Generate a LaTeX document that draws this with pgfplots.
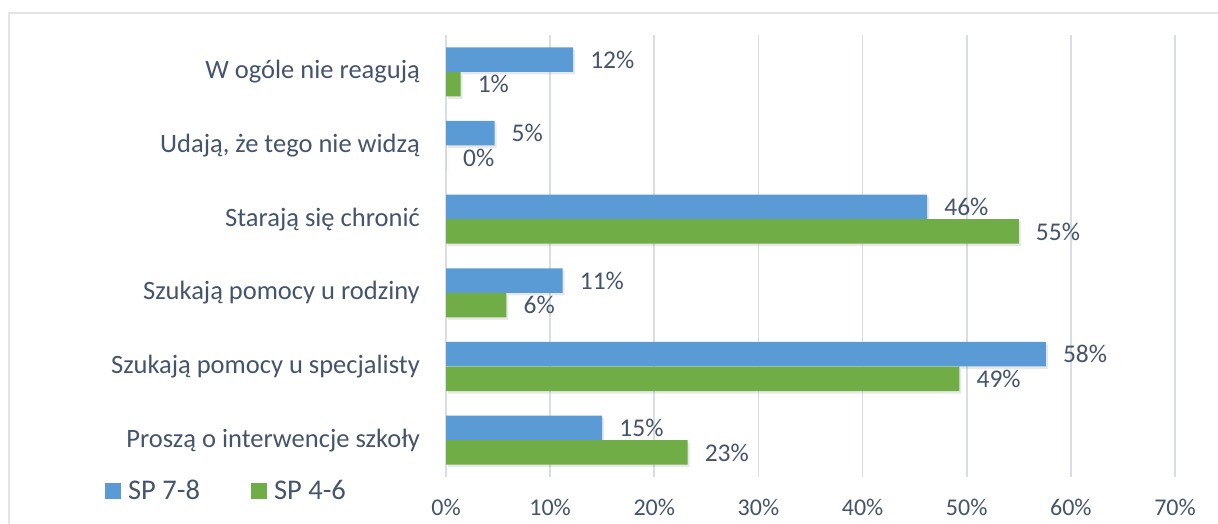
\documentclass[border=0pt]{standalone}
\usepackage{pgfplots}
\usepackage{pgfplotstable}
\pgfplotsset{compat=1.18}
\usepackage{fontspec}
\setmainfont{Carlito}
\usetikzlibrary{shadows}
\definecolor{spblue}{HTML}{5B9BD5}
\definecolor{spgreen}{HTML}{70AD47}
\definecolor{txt}{HTML}{44546A}
\definecolor{gridc}{HTML}{D9DEE5}
\definecolor{framec}{HTML}{E2E4E8}
\pgfplotstableread{
x y label
12.2 5.1667 12
4.66 4.1667 5
46.2 3.1667 46
11.2 2.1667 11
57.6 1.1667 58
15.0 0.1667 15
}\bluetab
\pgfplotstableread{
x y label
1.4 4.8333 1
0 3.8333 0
55.0 2.8333 55
5.8 1.8333 6
49.3 0.8333 49
23.2 -0.1667 23
}\greentab
\begin{document}
\begin{tikzpicture}[x=1pt,y=1pt]
\draw[framec, line width=1.2pt] (9,-2) -- (9,510) -- (1220,510);
\begin{axis}[
  at={(446pt,46pt)}, anchor=south west,
  scale only axis, width=729pt, height=442pt,
  xmin=0, xmax=70, ymin=-0.5, ymax=5.5,
  xtick={0,10,...,70},
  xticklabels={0\%,10\%,20\%,30\%,40\%,50\%,60\%,70\%},
  ytick={0,1,2,3,4,5},
  yticklabels={Proszą o interwencje szkoły, Szukają pomocy u specjalisty, Szukają pomocy u rodziny, Starają się chronić, {Udają, że tego nie widzą}, W ogóle nie reagują},
  axis line style={draw=none},
  major tick length=0pt,
  xmajorgrids, ymajorgrids=false,
  major grid style={draw=gridc, line width=1.6pt},
  xticklabel style={anchor=north, inner sep=0pt, yshift=-22pt, font=\fontsize{24}{28}\selectfont, text=txt},
  yticklabel style={anchor=east, inner sep=0pt, xshift=-26pt, font=\fontsize{26.5}{30}\selectfont, text=txt},
  clip=false,
  bar width=0.3333,
  nodes near coords={\pgfplotspointmeta\%},
  point meta=explicit symbolic,
  every node near coord/.append style={anchor=west, inner sep=0pt, xshift=17pt, font=\fontsize{25.5}{29}\selectfont, text=txt},
  legend image code/.code={\fill[#1, draw=none] (0pt,-7.5pt) rectangle (16pt,8.5pt); \path (23pt,0pt);},
  legend columns=2,
  legend style={at={(-0.4678,-0.0317)}, anchor=west, draw=none, fill=none, inner sep=0pt,
    font=\fontsize{28.5}{32}\selectfont, text=txt, nodes={inner sep=0pt}},
]
\addlegendimage{fill=spblue, draw=none}
\addlegendentry{SP 7-8\hbox to 51pt{}}
\addlegendimage{fill=spgreen, draw=none}
\addlegendentry{SP 4-6}
\addplot[forget plot, xbar, bar shift=0pt, fill=spblue, draw=none,
  drop shadow={shadow xshift=2pt, shadow yshift=-2.5pt, opacity=0.18}]
  table[x=x, y=y, meta=label]{\bluetab};
\addplot[forget plot, xbar, bar shift=0pt, fill=spgreen, draw=none,
  drop shadow={shadow xshift=2pt, shadow yshift=-2.5pt, opacity=0.18}]
  table[x=x, y=y, meta=label]{\greentab};
\end{axis}
\pgfresetboundingbox
\path[use as bounding box] (0,0) rectangle (1218,523);
\end{tikzpicture}
\end{document}
